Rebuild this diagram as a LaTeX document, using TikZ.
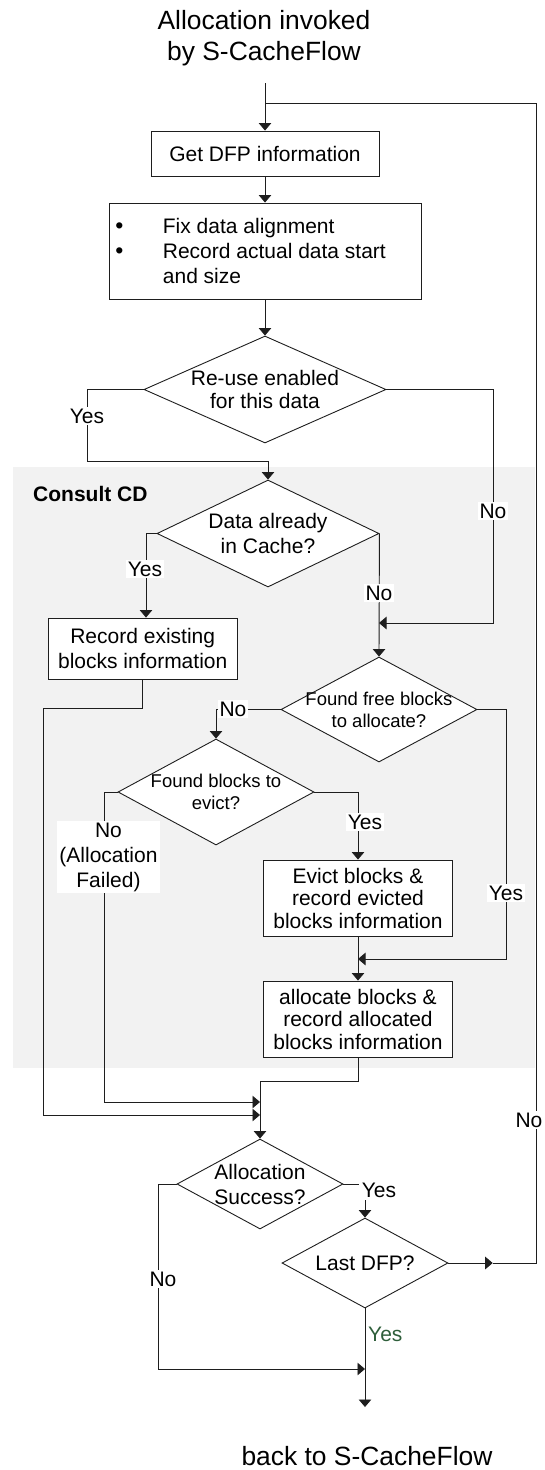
\documentclass[tikz,border=0pt]{standalone}
\usepackage{fontspec}
\setmainfont{Liberation Sans}
\usetikzlibrary{arrows.meta,shapes.geometric}
\definecolor{panel}{HTML}{F2F2F2}
\definecolor{ink}{HTML}{1E1E1E}
\definecolor{yesgreen}{HTML}{2E5E3A}

\begin{document}
\begin{tikzpicture}[x=1pt,y=-1pt,
  every node/.style={font=\fontsize{21}{25}\selectfont, text=black},
  flow/.style={draw=ink, line width=0.9pt},
  tip/.style={flow, -{Triangle[width=12.5pt,length=7.5pt]}},
  stepbox/.style={draw=ink, line width=0.9pt, fill=white, rectangle, inner sep=0pt, align=center},
  choice/.style={draw=ink, line width=0.9pt, fill=white, diamond, inner sep=0pt},
  txt/.style={align=center, inner sep=0pt},
  tag/.style={fill=white, inner sep=2pt, align=center},
  small/.style={font=\fontsize{18.5}{22}\selectfont},
  big/.style={font=\fontsize{26.4}{32}\selectfont}]

\useasboundingbox (0,0) rectangle (545,1470);

% shaded region for the cache directory lookup
\fill[panel] (13,467) rectangle (535,1068);
\node[anchor=west, inner sep=0pt, font=\bfseries\fontsize{21}{25}\selectfont] (cd) at (33,494) {Consult CD};

% entry
\node[big, anchor=base, inner sep=0pt] (title1) at (264,29.3) {Allocation invoked};
\node[big, anchor=base, inner sep=0pt] (title2) at (264,60) {by S-CacheFlow};
\coordinate (start) at (265,83);
\coordinate (loopin) at (265,103);

% process boxes
\node[stepbox, minimum width=228, minimum height=45] (b1) at (265,153.5) {Get DFP information};
\node[stepbox, minimum width=312, minimum height=96] (b2) at (265,251) {};
\node[anchor=base, inner sep=0pt, font=\fontsize{23}{25}\selectfont] (bul1) at (119.5,233.6) {\textbullet};
\node[anchor=base, inner sep=0pt, font=\fontsize{23}{25}\selectfont] (bul2) at (119.5,258.6) {\textbullet};
\node[anchor=west, align=left, inner sep=0pt] (b2t) at (162.7,251) {Fix data alignment\\Record actual data start\\and size};

\node[stepbox, minimum width=189.4, minimum height=61] (b3) at (142.7,648.5) {Record existing\\blocks information};
\node[stepbox, minimum width=189, minimum height=76, font=\fontsize{21}{22.5}\selectfont] (b4) at (358,898) {Evict blocks \&\\record evicted\\blocks information};
\node[stepbox, minimum width=189, minimum height=76, font=\fontsize{21}{22.5}\selectfont] (b5) at (358,1019) {allocate blocks \&\\record allocated\\blocks information};

% decisions
\node[choice, minimum width=242, minimum height=107] (d1) at (265,389.5) {};
\node[txt, font=\fontsize{21}{23}\selectfont] (d1t) at (d1) {Re-use enabled\\for this data};
\node[choice, minimum width=222, minimum height=107] (d2) at (268,533.5) {};
\node[txt, font=\fontsize{21}{25}\selectfont] (d2t) at (d2) {Data already\\in Cache?};
\node[choice, minimum width=196, minimum height=105] (d3) at (379,709.5) {};
\node[txt, small] (d3t) at (d3) {Found free blocks\\to allocate?};
\node[choice, minimum width=196, minimum height=106] (d4) at (216,792) {};
\node[txt, small] (d4t) at (d4) {Found blocks to\\evict?};
\node[choice, minimum width=166, minimum height=90] (d5) at (260,1184) {};
\node[txt] (d5t) at (d5) {Allocation\\Success?};
\node[choice, minimum width=166, minimum height=90] (d6) at (365,1263) {};
\node[txt] (d6t) at (d6) {Last DFP?};

% junction points
\coordinate (evictin) at (358,959);
\coordinate (joinA) at (260,1102);
\coordinate (joinB) at (260,1115);
\coordinate (merge) at (260,1081);
\coordinate (outjoin) at (365,1369);
\coordinate (outend) at (365,1407);
\coordinate (retmark) at (492.7,1263);
\coordinate (allocin) at (379,623);

% main column
\draw[tip] (start) -- (b1.north);
\draw[tip] (b1.south) -- (b2.north);
\draw[tip] (b2.south) -- (d1.north);

% re-use decision
\draw[tip] (d1.west) -| (87,461) -| (d2.north);
\draw[tip] (d1.east) -| (493,623) -- (allocin);
\node[tag] (l1) at (87,416) {Yes};
\node[tag] (l2) at (493,511) {No};

% cache lookup
\draw[tip] (d2.west) -| ([xshift=3.3pt]b3.north);
\draw[tip] (d2.east) -- (d3.north);
\node[tag] (l3) at (145,569) {Yes};
\node[tag] (l4) at (379,593) {No};
\draw[tip] (b3.south) |- (43,708) |- (joinB);

% free blocks
\draw[tip] (d3.west) -| (d4.north);
\draw[tip] (d3.east) -| (506,959) -- (evictin);
\node[tag] (l5) at (233,709) {No};
\node[tag] (l6) at (506,893) {Yes};

% eviction
\draw[tip] (d4.east) -| (b4.north);
\draw[tip] (d4.west) -| (104,1102) -- (joinA);
\node[tag] (l7) at (365,822) {Yes};
\node[tag] (l8) at (108.5,857) {No\\(Allocation\\Failed)};
\draw[tip] (b4.south) -- (b5.north);
\draw[tip] (b5.south) |- (merge) -- (d5.north);

% outcome
\draw[tip] (d5.east) -| (d6.north);
\draw[tip] (d5.west) -| (158,1369) -- (outjoin);
\node[tag, inner sep=2.5pt] (l9) at (379,1190) {Yes};
\node[tag] (l10) at (163,1279) {No};
\draw[tip] (d6.east) -- (retmark);
\draw[flow] (retmark) -- (536,1263) -- (536,103) -- (loopin);
\node[tag] (l11) at (529,1120) {No};
\draw[tip] (d6.south) -- (outend);
\node[anchor=west, inner sep=0pt, text=yesgreen] (l12) at (368,1334) {Yes};
\node[big, anchor=base, inner sep=0pt] (back) at (367,1465) {back to S-CacheFlow};

\end{tikzpicture}
\end{document}
